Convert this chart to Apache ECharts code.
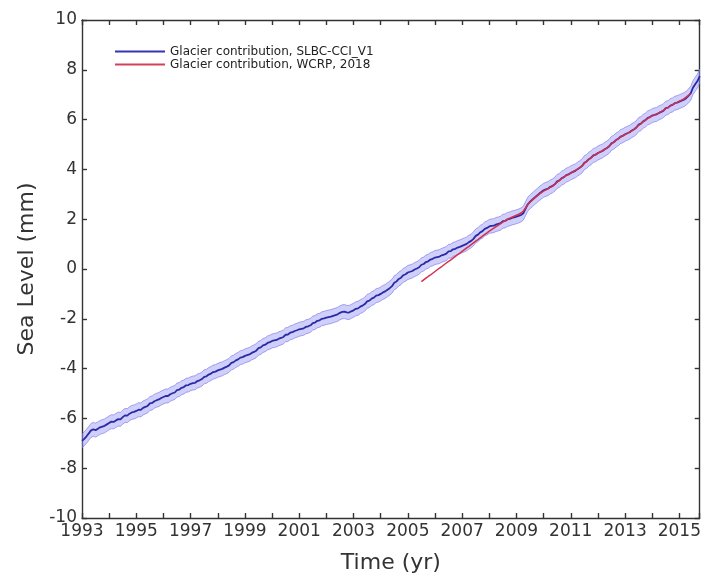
<!DOCTYPE html>
<html>
<head>
<meta charset="utf-8">
<script src="https://cdn.jsdelivr.net/npm/echarts@6/dist/echarts.min.js"></script>
<style>
  html, body { margin: 0; padding: 0; background: #ffffff; }
  #chart { width: 704px; height: 579px; }
</style>
</head>
<body>
<div id="chart"></div>
<script>
// Monthly glacier contribution to sea level (mm), SLBC-CCI v1, Jan 1993 onwards
const slbcStartYear = 1993;
const slbcCci = [
  -6.90, -6.82, -6.72, -6.60, -6.48, -6.44, -6.47, -6.42, -6.36, -6.33, -6.30, -6.24, // 1993
  -6.18, -6.13, -6.14, -6.08, -6.03, -6.04, -5.95, -5.88, -5.89, -5.81, -5.76, -5.74, // 1994
  -5.70, -5.65, -5.66, -5.58, -5.54, -5.50, -5.40, -5.38, -5.31, -5.27, -5.24, -5.18, // 1995
  -5.14, -5.10, -5.10, -5.03, -4.99, -4.96, -4.86, -4.84, -4.77, -4.74, -4.67, -4.66, // 1996
  -4.61, -4.58, -4.57, -4.50, -4.47, -4.42, -4.33, -4.31, -4.24, -4.20, -4.14, -4.12, // 1997
  -4.07, -4.04, -4.01, -3.96, -3.92, -3.87, -3.77, -3.74, -3.67, -3.63, -3.56, -3.54, // 1998
  -3.49, -3.46, -3.43, -3.37, -3.33, -3.28, -3.18, -3.15, -3.07, -3.04, -2.97, -2.94, // 1999
  -2.89, -2.87, -2.85, -2.80, -2.77, -2.73, -2.64, -2.63, -2.56, -2.54, -2.49, -2.46, // 2000
  -2.42, -2.40, -2.38, -2.32, -2.30, -2.26, -2.17, -2.15, -2.08, -2.06, -2.00, -1.98, // 2001
  -1.95, -1.93, -1.91, -1.88, -1.85, -1.82, -1.76, -1.72, -1.71, -1.74, -1.75, -1.70, // 2002
  -1.66, -1.60, -1.58, -1.51, -1.47, -1.41, -1.30, -1.27, -1.19, -1.15, -1.07, -1.05, // 2003
  -1.00, -0.94, -0.90, -0.83, -0.77, -0.69, -0.55, -0.50, -0.40, -0.35, -0.25, -0.21, // 2004
  -0.14, -0.11, -0.08, -0.02,  0.02,  0.07,  0.17,  0.20,  0.28,  0.31,  0.38,  0.41, // 2005
   0.46,  0.48,  0.50,  0.55,  0.58,  0.62,  0.71,  0.72,  0.79,  0.81,  0.86,  0.89, // 2006
   0.93,  0.97,  1.01,  1.08,  1.13,  1.21,  1.33,  1.38,  1.47,  1.52,  1.61,  1.65, // 2007
   1.71,  1.73,  1.74,  1.79,  1.81,  1.84,  1.92,  1.93,  1.99,  2.01,  2.05,  2.07, // 2008
   2.10,  2.13,  2.17,  2.24,  2.42,  2.60,  2.70,  2.78,  2.86,  2.94,  3.02,  3.09, // 2009
   3.16,  3.20,  3.23,  3.30,  3.34,  3.41,  3.52,  3.56,  3.65,  3.69,  3.77,  3.80, // 2010
   3.86,  3.90,  3.94,  4.01,  4.07,  4.14,  4.27,  4.32,  4.41,  4.47,  4.56,  4.59, // 2011
   4.66,  4.70,  4.74,  4.81,  4.86,  4.93,  5.05,  5.09,  5.18,  5.23,  5.32,  5.35, // 2012
   5.41,  5.45,  5.49,  5.56,  5.61,  5.68,  5.80,  5.84,  5.93,  5.98,  6.07,  6.10, // 2013
   6.16,  6.19,  6.21,  6.27,  6.31,  6.36,  6.46,  6.48,  6.56,  6.59,  6.66,  6.68, // 2014
   6.72,  6.76,  6.80,  6.86,  6.95,  7.05,  7.28,  7.42,  7.55,  7.75                 // 2015
];
// Half-width of the SLBC-CCI uncertainty envelope (mm)
const slbcUncertainty = 0.28;

// WCRP (2018) glacier contribution (mm), monthly from Jul 2005
const wcrpStartYear = 2005 + 6 / 12;
const wcrp2018 = [
                                        -0.51, -0.44, -0.37, -0.30, -0.24, -0.17, // 2005
  -0.10, -0.03,  0.04,  0.10,  0.17,  0.24,  0.31,  0.37,  0.44,  0.51,  0.58,  0.64, // 2006
   0.71,  0.78,  0.85,  0.91,  0.98,  1.05,  1.12,  1.18,  1.25,  1.32,  1.39,  1.45, // 2007
   1.52,  1.58,  1.64,  1.70,  1.76,  1.82,  1.88,  1.94,  2.00,  2.04,  2.08,  2.12, // 2008
   2.16,  2.20,  2.25,  2.32,  2.45,  2.58,  2.68,  2.77,  2.86,  2.93,  3.00,  3.07, // 2009
   3.13,  3.18,  3.23,  3.28,  3.33,  3.40,  3.49,  3.56,  3.63,  3.69,  3.75,  3.80, // 2010
   3.86,  3.91,  3.96,  4.01,  4.07,  4.14,  4.24,  4.32,  4.40,  4.47,  4.54,  4.59, // 2011
   4.65,  4.70,  4.75,  4.80,  4.86,  4.93,  5.02,  5.09,  5.17,  5.24,  5.30,  5.35, // 2012
   5.40,  5.45,  5.50,  5.55,  5.61,  5.68,  5.77,  5.84,  5.92,  5.98,  6.05,  6.10, // 2013
   6.15,  6.19,  6.23,  6.27,  6.32,  6.37,  6.44,  6.49,  6.55,  6.60,  6.65,  6.69, // 2014
   6.74,  6.78,  6.83,  6.90,  6.97,  7.05                                             // 2015
];

// Axis settings
const xMin = 1993;
const xMax = 2015.75;
const xLabelYears = [1993, 1995, 1997, 1999, 2001, 2003, 2005, 2007, 2009, 2011, 2013, 2015];
const yMin = -10;
const yMax = 10;
const yStep = 2;

const nameSlbc = 'Glacier contribution, SLBC-CCI_V1';
const nameWcrp = 'Glacier contribution, WCRP, 2018';

// Monthly time stamps (decimal years)
const toPairs = (start, vals) => vals.map((v, i) => [start + i / 12, v]);
const slbcData = toPairs(slbcStartYear, slbcCci);
const wcrpData = toPairs(wcrpStartYear, wcrp2018);

const FONT = 'DejaVu Sans';
const AX = '#333333';
const BLUE = '#2a2aa6';
const RED = '#d2304e';

const chart = echarts.init(document.getElementById('chart'), null, { renderer: 'canvas' });

const axisLineStyle = { color: AX, width: 1.4 };
const boxAxis = {
  axisLine: { show: true, onZero: false, lineStyle: axisLineStyle },
  axisTick: { show: true, inside: true, length: 5, lineStyle: axisLineStyle },
  splitLine: { show: false }
};

chart.setOption({
  animation: false,
  backgroundColor: '#ffffff',
  grid: { left: 82, right: 1, top: 20, bottom: 61 },
  legend: {
    orient: 'vertical',
    left: 110,
    top: 40,
    itemWidth: 50,
    itemHeight: 2,
    itemGap: 0,
    data: [
      { name: nameSlbc, icon: 'rect', itemStyle: { color: '#3535b4' } },
      { name: nameWcrp, icon: 'rect', itemStyle: { color: '#d4405a' } }
    ],
    textStyle: { fontFamily: FONT, fontSize: 12, color: '#222', lineHeight: 13 }
  },
  xAxis: [
    Object.assign({
      type: 'value', position: 'bottom', min: xMin, max: xMax, interval: 1,
      axisLabel: {
        fontFamily: FONT, fontSize: 17, color: AX, margin: 5,
        formatter: v => (xLabelYears.indexOf(Math.round(v * 1000) / 1000) >= 0 ? String(v) : '')
      },
      name: 'Time (yr)', nameLocation: 'middle', nameGap: 34,
      nameTextStyle: { fontFamily: FONT, fontSize: 22, color: AX }
    }, boxAxis),
    Object.assign({
      type: 'value', position: 'top', min: xMin, max: xMax, interval: 1,
      axisLabel: { show: false }
    }, boxAxis)
  ],
  yAxis: [
    Object.assign({
      type: 'value', position: 'left', min: yMin, max: yMax, interval: yStep,
      axisLabel: { fontFamily: FONT, fontSize: 17, color: AX, margin: 5 },
      name: 'Sea Level (mm)', nameLocation: 'middle', nameGap: 42,
      nameTextStyle: { fontFamily: FONT, fontSize: 22, color: AX }
    }, boxAxis),
    Object.assign({
      type: 'value', position: 'right', min: yMin, max: yMax, interval: yStep,
      axisLabel: { show: false }
    }, boxAxis)
  ],
  series: [
    {
      // uncertainty envelope around the SLBC-CCI series
      type: 'custom',
      silent: true,
      z: 2,
      clip: true,
      data: [[slbcStartYear, slbcCci[0]]],
      renderItem: (params, api) => {
        const upper = slbcData.map(d => api.coord([d[0], d[1] + slbcUncertainty]));
        const lower = slbcData.map(d => api.coord([d[0], d[1] - slbcUncertainty])).reverse();
        return {
          type: 'polygon',
          shape: { points: upper.concat(lower) },
          style: { fill: 'rgba(140,140,242,0.42)', stroke: 'rgba(120,120,235,0.65)', lineWidth: 1 }
        };
      }
    },
    {
      name: nameSlbc,
      type: 'line',
      data: slbcData,
      symbol: 'none',
      z: 3,
      lineStyle: { color: BLUE, width: 1.8 },
      itemStyle: { color: BLUE }
    },
    {
      name: nameWcrp,
      type: 'line',
      data: wcrpData,
      symbol: 'none',
      z: 4,
      lineStyle: { color: RED, width: 1.5 },
      itemStyle: { color: RED }
    }
  ]
});
</script>
</body>
</html>
